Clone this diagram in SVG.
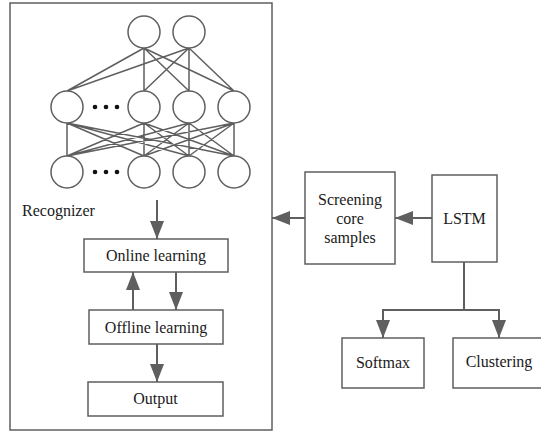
<svg xmlns="http://www.w3.org/2000/svg" width="541" height="433" viewBox="0 0 541 433">
<style>
.b{fill:#fff;stroke:#5f5f5f;stroke-width:1.5}
.c{fill:#fff;stroke:#5f5f5f;stroke-width:1.5}
.l{stroke:#5f5f5f;stroke-width:1.5;fill:none}
.a{stroke:#5f5f5f;stroke-width:2;fill:none}
text{font-family:'Liberation Serif','DejaVu Serif','Times New Roman',Times,serif;font-size:16px;fill:#1a1a1a}
.m{text-anchor:middle}
</style>
<defs>
<marker id="ah" viewBox="0 0 18 14" refX="18" refY="7" markerWidth="18" markerHeight="14" markerUnits="userSpaceOnUse" orient="auto">
<path d="M0,0 L18,7 L0,14 Z" fill="#5f5f5f"/>
</marker>
</defs>
<g id="recognizer">
<rect class="b" x="10" y="3" width="262" height="427"/>
<text x="22" y="216" font-family="Liberation Serif, serif">Recognizer</text>
</g>
<g id="network">
<g class="l">
<path d="M144,48 L67,91 M144,48 L144,91 M144,48 L189,91 M144,48 L234,91 M189,48 L67,91 M189,48 L144,91 M189,48 L189,91 M189,48 L234,91"/>
<path d="M67,123 L67,156 M67,123 L144,156 M67,123 L189,156 M67,123 L234,156 M144,123 L67,156 M144,123 L144,156 M144,123 L189,156 M144,123 L234,156 M189,123 L67,156 M189,123 L144,156 M189,123 L189,156 M189,123 L234,156 M234,123 L67,156 M234,123 L144,156 M234,123 L189,156 M234,123 L234,156"/>
</g>
<circle class="c" cx="144" cy="32" r="16"/>
<circle class="c" cx="189" cy="32" r="16"/>
<circle class="c" cx="67" cy="107" r="16"/>
<circle class="c" cx="144" cy="107" r="16"/>
<circle class="c" cx="189" cy="107" r="16"/>
<circle class="c" cx="234" cy="107" r="16"/>
<circle class="c" cx="67" cy="172" r="16"/>
<circle class="c" cx="144" cy="172" r="16"/>
<circle class="c" cx="189" cy="172" r="16"/>
<circle class="c" cx="234" cy="172" r="16"/>
<g fill="#111">
<circle cx="95" cy="107" r="2.3"/><circle cx="106" cy="107" r="2.3"/><circle cx="117" cy="107" r="2.3"/>
<circle cx="95" cy="172" r="2.3"/><circle cx="106" cy="172" r="2.3"/><circle cx="117" cy="172" r="2.3"/>
</g>
</g>
<g id="online">
<rect class="b" x="84" y="239" width="144" height="33"/>
<text class="m" x="156" y="261">Online learning</text>
</g>
<g id="offline">
<rect class="b" x="89" y="310" width="134" height="34"/>
<text class="m" x="156" y="333">Offline learning</text>
</g>
<g id="output">
<rect class="b" x="88" y="382" width="135" height="34"/>
<text class="m" x="155.5" y="404">Output</text>
</g>
<g id="screening">
<rect class="b" x="305" y="172" width="90" height="92"/>
<text class="m" x="350" y="205">Screening</text>
<text class="m" x="350" y="224">core</text>
<text class="m" x="350" y="243">samples</text>
</g>
<g id="lstm">
<rect class="b" x="432" y="175" width="65" height="87"/>
<text class="m" x="464.5" y="224">LSTM</text>
</g>
<g id="softmax">
<rect class="b" x="342" y="338" width="82" height="50"/>
<text class="m" x="383" y="368">Softmax</text>
</g>
<g id="clustering">
<rect class="b" x="453" y="338" width="92" height="50"/>
<text class="m" x="499" y="367">Clustering</text>
</g>
<g id="connectors">
<path class="a" d="M157,200 L157,239" marker-end="url(#ah)"/>
<path class="a" d="M133,310 L133,272" marker-end="url(#ah)"/>
<path class="a" d="M176,272 L176,310" marker-end="url(#ah)"/>
<path class="a" d="M157,344 L157,382" marker-end="url(#ah)"/>
<path class="a" d="M305,218 L272,218" marker-end="url(#ah)"/>
<path class="a" d="M432,218 L395,218" marker-end="url(#ah)"/>
<path class="a" d="M464,262 L464,310 M383,310 L499,310"/>
<path class="a" d="M383,309 L383,338" marker-end="url(#ah)"/>
<path class="a" d="M499,309 L499,338" marker-end="url(#ah)"/>
</g>
</svg>
